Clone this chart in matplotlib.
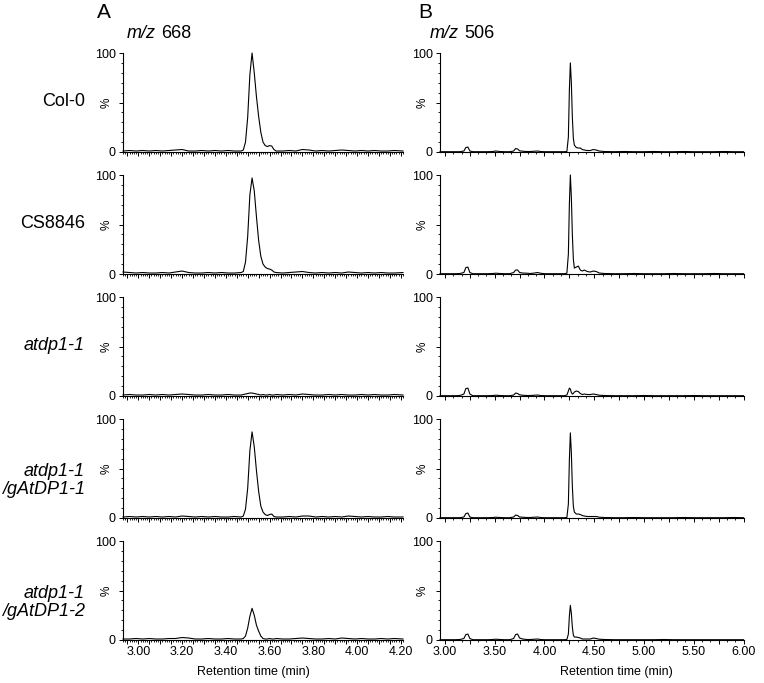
import matplotlib
matplotlib.use("Agg")
import matplotlib.pyplot as plt
from matplotlib.ticker import MultipleLocator, FuncFormatter, FixedLocator

plt.rcParams['font.family'] = ['Liberation Sans', 'DejaVu Sans']

# ---------------- data ----------------
sample_labels = ["Col-0", "CS8846", "atdp1-1", "atdp1-1\n/gAtDP1-1", "atdp1-1\n/gAtDP1-2"]
sample_italic = [False, False, True, True, True]
panel_letters = ["A", "B"]
ion_labels = ["668", "506"]

# m/z 668 chromatograms (retention time, min ; relative intensity, %)
t668 = [2.93, 2.96, 2.99, 3.02, 3.05, 3.08, 3.11, 3.14, 3.17, 3.20, 3.23, 3.26, 3.29,
        3.32, 3.35, 3.38, 3.41, 3.44, 3.47, 3.48, 3.49, 3.50, 3.51, 3.52, 3.53, 3.54,
        3.55, 3.56, 3.57, 3.58, 3.59, 3.60, 3.61, 3.62, 3.63, 3.66, 3.69, 3.72, 3.75,
        3.78, 3.81, 3.84, 3.87, 3.90, 3.93, 3.96, 3.99, 4.02, 4.05, 4.08, 4.11, 4.14,
        4.17, 4.21]
i668_col0 = [1.0, 1.5, 1.0, 1.5, 1.0, 1.5, 1.0, 1.5, 2.0, 2.5, 1.0, 1.0, 1.5,
             1.0, 1.5, 1.0, 1.5, 1.0, 1.0, 2.0, 10.0, 35.0, 78.0, 100.0, 80.0, 56.0,
             36.0, 20.0, 10.0, 6.5, 5.5, 6.5, 6.0, 2.5, 1.0, 1.0, 1.5, 1.0, 2.5,
             2.0, 1.0, 1.5, 1.0, 1.5, 2.0, 1.5, 1.0, 1.5, 1.0, 1.5, 1.0, 1.0,
             1.5, 1.0]
i668_cs8846 = [2.0, 1.5, 1.0, 1.5, 1.0, 1.0, 1.5, 1.0, 2.0, 3.0, 1.5, 1.0, 1.0,
               1.5, 1.0, 1.5, 1.0, 1.0, 1.5, 2.5, 12.0, 38.0, 80.0, 97.0, 84.0, 58.0,
               34.0, 18.0, 10.0, 7.0, 5.5, 5.0, 4.0, 2.0, 1.5, 1.0, 1.5, 2.0, 2.5,
               1.5, 1.0, 1.5, 1.0, 1.5, 1.0, 2.0, 1.5, 1.0, 1.5, 1.0, 1.5, 1.0,
               1.0, 1.5]
i668_atdp = [1.0, 1.5, 1.0, 1.0, 1.5, 1.0, 1.5, 1.0, 1.5, 2.0, 1.5, 1.0, 1.0,
             1.5, 1.0, 1.0, 1.5, 1.0, 1.0, 1.5, 2.0, 2.5, 3.0, 3.0, 2.5, 2.0,
             1.5, 1.0, 1.5, 1.0, 1.0, 1.5, 1.0, 1.0, 1.5, 1.0, 1.5, 1.0, 2.0,
             1.5, 1.0, 1.0, 1.5, 1.0, 1.5, 1.0, 1.0, 1.5, 1.0, 1.5, 1.0, 1.0,
             1.5, 1.0]
i668_g1 = [1.0, 1.5, 1.0, 1.5, 1.0, 1.5, 1.0, 1.5, 1.0, 2.0, 1.5, 1.0, 1.5,
           1.0, 1.5, 1.0, 1.0, 1.5, 1.0, 2.0, 9.0, 30.0, 68.0, 87.0, 72.0, 48.0,
           27.0, 12.0, 6.0, 3.5, 2.5, 3.5, 4.0, 1.5, 1.0, 1.0, 1.5, 1.0, 2.0,
           2.0, 1.0, 1.5, 1.0, 1.5, 1.0, 2.0, 1.5, 1.0, 1.5, 1.0, 1.0, 1.5,
           1.0, 1.0]
i668_g2 = [1.0, 1.0, 1.5, 1.0, 1.5, 1.0, 1.0, 1.5, 1.5, 2.5, 2.0, 1.0, 1.0,
           1.5, 1.0, 1.0, 1.5, 1.0, 1.0, 1.5, 4.0, 12.0, 24.0, 32.0, 25.0, 15.0,
           9.0, 4.0, 1.5, 1.0, 1.0, 1.5, 1.0, 1.0, 1.5, 1.0, 1.0, 1.5, 2.0,
           1.5, 1.0, 1.0, 1.5, 1.0, 2.0, 1.5, 1.0, 1.5, 1.0, 1.0, 1.5, 1.0,
           1.5, 1.0]

# m/z 506 chromatograms
t506 = [2.95, 3.00, 3.05, 3.10, 3.15, 3.19, 3.21, 3.23, 3.25, 3.28, 3.33, 3.38, 3.43,
        3.48, 3.51, 3.55, 3.60, 3.65, 3.69, 3.71, 3.73, 3.75, 3.78, 3.82, 3.86, 3.90,
        3.93, 3.96, 4.00, 4.05, 4.10, 4.15, 4.20, 4.225, 4.24, 4.25, 4.26, 4.27, 4.28,
        4.29, 4.30, 4.32, 4.34, 4.36, 4.38, 4.40, 4.43, 4.46, 4.49, 4.52, 4.55, 4.60,
        4.70, 4.80, 4.90, 5.00, 5.10, 5.20, 5.30, 5.40, 5.50, 5.60, 5.70, 5.80, 5.90,
        6.00]
i506_col0 = [0.3, 0.3, 0.3, 0.3, 0.3, 1.0, 4.5, 5.0, 1.0, 0.3, 0.3, 0.3, 0.3,
             0.5, 1.0, 0.5, 0.3, 0.3, 1.0, 3.5, 3.0, 1.2, 0.8, 0.5, 0.5, 0.8,
             1.0, 0.5, 0.3, 0.3, 0.3, 0.3, 0.3, 0.5, 15.0, 62.0, 90.0, 70.0, 35.0,
             14.0, 7.0, 4.5, 4.0, 4.0, 2.5, 2.0, 1.5, 1.5, 2.5, 2.0, 1.0, 0.5,
             0.3, 0.5, 0.3, 0.3, 0.5, 0.3, 0.3, 0.5, 0.3, 0.3, 0.3, 0.5, 0.3,
             0.3]
i506_cs8846 = [0.3, 0.3, 0.3, 0.3, 0.5, 1.5, 6.5, 7.0, 1.5, 0.3, 0.3, 0.3, 0.3,
               0.5, 0.8, 0.5, 0.3, 0.3, 1.5, 4.0, 4.0, 1.5, 1.0, 0.8, 0.5, 1.0,
               1.5, 0.8, 0.3, 0.3, 0.3, 0.3, 0.3, 0.8, 20.0, 70.0, 100.0, 78.0, 40.0,
               15.0, 6.0, 7.0, 8.0, 4.0, 3.0, 4.0, 2.5, 2.0, 3.0, 2.5, 1.0, 0.5,
               0.3, 0.3, 0.5, 0.3, 0.3, 0.3, 0.5, 0.3, 0.3, 0.3, 0.5, 0.3, 0.3,
               0.3]
i506_atdp = [0.3, 0.3, 0.3, 0.3, 0.5, 2.0, 7.5, 8.0, 2.0, 0.3, 0.3, 0.3, 0.3,
             0.5, 0.8, 0.5, 0.3, 0.3, 1.0, 3.0, 2.5, 1.2, 0.8, 0.5, 0.5, 0.8,
             1.0, 0.5, 0.3, 0.3, 0.3, 0.3, 0.3, 1.0, 5.0, 8.0, 7.0, 3.5, 2.0,
             2.5, 4.0, 5.0, 4.5, 2.5, 1.5, 2.0, 1.5, 1.5, 2.0, 1.5, 0.8, 0.5,
             0.3, 0.3, 0.3, 0.5, 0.3, 0.3, 0.3, 0.3, 0.5, 0.3, 0.3, 0.3, 0.3,
             0.3]
i506_g1 = [0.3, 0.3, 0.3, 0.3, 0.3, 1.0, 4.5, 5.0, 1.0, 0.3, 0.3, 0.3, 0.3,
           0.5, 0.8, 0.5, 0.3, 0.3, 1.0, 3.0, 2.5, 1.0, 0.8, 0.5, 0.5, 0.8,
           1.0, 0.5, 0.3, 0.3, 0.3, 0.3, 0.3, 0.5, 14.0, 58.0, 86.0, 66.0, 32.0,
           12.0, 6.0, 4.0, 4.0, 3.5, 2.5, 2.0, 1.5, 1.5, 1.5, 1.5, 0.8, 0.5,
           0.3, 0.3, 0.5, 0.3, 0.3, 0.3, 0.3, 0.5, 0.3, 0.3, 0.3, 0.3, 0.5,
           0.3]
i506_g2 = [0.3, 0.3, 0.3, 0.3, 0.5, 1.5, 5.5, 6.0, 1.5, 0.3, 0.3, 0.3, 0.3,
           0.5, 0.8, 0.5, 0.3, 0.3, 1.5, 5.5, 6.0, 2.0, 1.0, 0.5, 0.5, 0.8,
           1.0, 0.5, 0.3, 0.3, 0.3, 0.3, 0.3, 0.5, 6.0, 24.0, 35.0, 27.0, 13.0,
           5.0, 3.0, 3.0, 2.5, 2.0, 1.0, 1.0, 1.0, 1.0, 2.0, 1.5, 0.8, 0.5,
           0.3, 0.3, 0.3, 0.3, 0.3, 0.5, 0.3, 0.3, 0.3, 0.3, 0.3, 0.3, 0.3,
           0.3]

series_668 = [i668_col0, i668_cs8846, i668_atdp, i668_g1, i668_g2]
series_506 = [i506_col0, i506_cs8846, i506_atdp, i506_g1, i506_g2]

# ---------------- layout ----------------
W, H = 764, 683
fig = plt.figure(figsize=(W / 100, H / 100), dpi=100)

row_tops = [53 + 122 * i for i in range(5)]
row_h = 99
cols = [
    dict(x0=123, x1=403, xlim=(2.93, 4.21), major=0.05, minor=0.01, label_step=0.2,
         t=t668, series=series_668, pct_x=107, letter_x=97, ion_x=127, xlab_x=253),
    dict(x0=440, x1=744, xlim=(2.95, 6.005), major=0.25, minor=0.25 / 3, label_step=0.5,
         t=t506, series=series_506, pct_x=423, letter_x=418, ion_x=430, xlab_x=616),
]

FS_TICK = 9


def make_fmt(step):
    def f(v, pos):
        k = round(v / step)
        if abs(k * step - v) < 1e-6:
            return "%.2f" % v
        return ""
    return FuncFormatter(f)


for ci, c in enumerate(cols):
    for ri in range(5):
        top = row_tops[ri]
        ax = fig.add_axes([c['x0'] / W, 1 - (top + row_h) / H,
                           (c['x1'] - c['x0']) / W, row_h / H])
        ax.plot(c['t'], c['series'][ri], color='black', lw=0.8, clip_on=False)
        ax.set_xlim(*c['xlim'])
        ax.set_ylim(0, 100)
        for s in ('top', 'right'):
            ax.spines[s].set_visible(False)
        for s in ('left', 'bottom'):
            ax.spines[s].set_linewidth(0.8)
        ax.xaxis.set_major_locator(MultipleLocator(c['major']))
        ax.xaxis.set_minor_locator(MultipleLocator(c['minor']))
        if ri == 4:
            ax.xaxis.set_major_formatter(make_fmt(c['label_step']))
        else:
            ax.xaxis.set_major_formatter(FuncFormatter(lambda v, p: ""))
        ax.yaxis.set_major_locator(FixedLocator([0, 50, 100]))
        ax.yaxis.set_major_formatter(FuncFormatter(lambda v, p: {0: "0", 100: "100"}.get(int(round(v)), "")))
        ax.yaxis.set_minor_locator(MultipleLocator(10))
        ax.tick_params(axis='both', which='major', direction='out', length=3.2,
                       width=0.7, labelsize=FS_TICK, pad=1.2)
        ax.tick_params(axis='both', which='minor', direction='out', length=1.6, width=0.6)
        ax.tick_params(axis='y', which='major', pad=2.0)
        fig.text(c['pct_x'] / W, 1 - (top + row_h / 2) / H, "%", rotation=90,
                 ha='center', va='center', fontsize=8.5)
        if ci == 0:
            lab = sample_labels[ri]
            off = 12 if "\n" in lab else -1
            fig.text(85 / W, 1 - (top + row_h / 2 + off) / H, lab, ha='right', va='center',
                     fontsize=13, style='italic' if sample_italic[ri] else 'normal',
                     linespacing=1.1)
    fig.text(c['letter_x'] / W, 1 - 12 / H, panel_letters[ci], ha='left', va='center', fontsize=15)
    fig.text(c['ion_x'] / W, 1 - 34 / H, "m/z", style='italic', ha='left', va='center',
             fontsize=13)
    fig.text((c['ion_x'] + 34) / W, 1 - 34 / H, ion_labels[ci], ha='left', va='center',
             fontsize=13)
    fig.text(c['xlab_x'] / W, 1 - 672 / H, "Retention time (min)", ha='center', va='center',
             fontsize=9)

fig.savefig("out.png", dpi=100)
